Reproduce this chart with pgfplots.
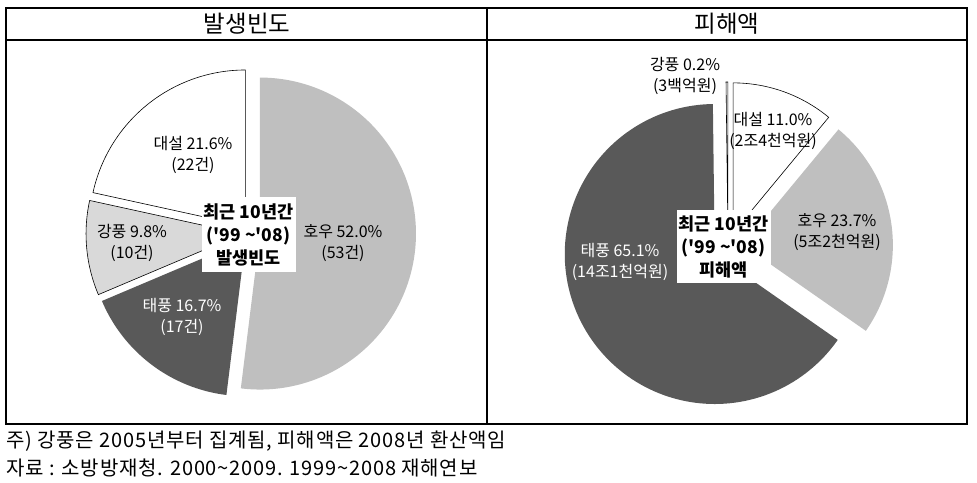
\documentclass[border=0pt]{standalone}
\usepackage{fontspec}
\setmainfont{Noto Sans CJK KR}
\usepackage{pgfplots}
\pgfplotsset{compat=1.18}

\definecolor{hou}{HTML}{BFBFBF}
\definecolor{tae}{HTML}{595959}
\definecolor{gang}{HTML}{D9D9D9}

% 발생빈도 (건): 호우, 태풍, 강풍, 대설
\def\Ha{53}\def\Ta{17}\def\Ga{10}\def\Da{22}
\def\Tota{102}
% 피해액 (%): 대설, 호우, 태풍, 강풍
\def\Db{11.0}\def\Hb{23.7}\def\Tb{65.1}\def\Gb{0.2}

% cx cy R explode a1 a2 style
\newcommand\pieslice[7]{%
  \pgfmathsetmacro\pa{#5}%
  \pgfmathsetmacro\pb{#6}%
  \pgfmathsetmacro\pmid{(\pa+\pb)/2}%
  \pgfmathsetmacro\pcx{#1+#4*cos(\pmid)}%
  \pgfmathsetmacro\pcy{#2+#4*sin(\pmid)}%
  \edef\pcmd{\noexpand\addplot[#7,mark=none,domain=\pa:\pb,samples=120,variable=\noexpand\t]
    ({\pcx+#3*cos(\noexpand\t)},{\pcy+#3*sin(\noexpand\t)}) -- (axis cs:\pcx,\pcy) -- cycle;}%
  \pcmd}

\begin{document}
\begin{tikzpicture}
\useasboundingbox (0,0) rectangle (977pt,482pt);
\begin{axis}[at={(0,0)}, anchor=south west, scale only axis,
  width=977pt, height=482pt, xmin=0, xmax=977, ymin=0, ymax=482,
  hide axis, clip=false]
% ---- left pie: 발생빈도
\pieslice{251}{249}{156}{9}{90-360/\Tota*\Ha}{90}{fill=hou,draw=none}
\pieslice{251}{249}{156}{9}{90-360/\Tota*(\Ha+\Ta)}{90-360/\Tota*\Ha}{fill=tae,draw=none}
\pieslice{251}{249}{156}{9}{90-360/\Tota*(\Ha+\Ta+\Ga)}{90-360/\Tota*(\Ha+\Ta)}{fill=gang,draw=black,line width=0.6pt}
\pieslice{251}{249}{156}{9}{90-360/\Tota*(\Ha+\Ta+\Ga+\Da)}{90-360/\Tota*(\Ha+\Ta+\Ga)}{fill=white,draw=black,line width=0.6pt}
% ---- right pie: 피해액
\pieslice{728}{235}{150}{15}{90-3.6*\Db}{90}{fill=white,draw=black,line width=0.6pt}
\pieslice{728}{235}{150}{15}{90-3.6*(\Db+\Hb)}{90-3.6*\Db}{fill=hou,draw=none}
\pieslice{728}{235}{150}{15}{90-3.6*(\Db+\Hb+\Tb)}{90-3.6*(\Db+\Hb)}{fill=tae,draw=none}
\pieslice{728}{235}{150}{15}{90-3.6*(\Db+\Hb+\Tb+\Gb)}{90-3.6*(\Db+\Hb+\Tb)}{fill=white,draw=black,line width=0.6pt}

% frame
\draw[line width=1.3pt] (axis cs:6,474) rectangle (axis cs:967,58);
\draw[line width=1.3pt] (axis cs:6,442) -- (axis cs:967,442);
\draw[line width=1.3pt] (axis cs:487,474) -- (axis cs:487,58);
\node[font=\fontsize{23.5}{26}\selectfont] at (axis cs:247,458) {발생빈도};
\node[font=\fontsize{23.5}{26}\selectfont] at (axis cs:727,458) {피해액};

% slice labels
\begin{scope}[every node/.style={align=center,font=\fontsize{16}{20.5}\selectfont}]
\node at (axis cs:193,327) {대설 21.6\%\\(22건)};
\node at (axis cs:132,239) {강풍 9.8\%\\(10건)};
\node[text=white] at (axis cs:182,165) {태풍 16.7\%\\(17건)};
\node at (axis cs:343,239) {호우 52.0\%\\(53건)};
\node at (axis cs:685,406) {강풍 0.2\%\\(3백억원)};
\node at (axis cs:773,351) {대설 11.0\%\\(2조4천억원)};
\node at (axis cs:837,250) {호우 23.7\%\\(5조2천억원)};
\node[text=white] at (axis cs:620,220) {태풍 65.1\%\\(14조1천억원)};
\end{scope}
\node[fill=white,inner sep=0pt,minimum width=94pt,minimum height=75pt,align=center,
  font=\bfseries\fontsize{17.5}{23}\selectfont] at (axis cs:248.5,247.5)
  {최근 10년간\\(\textquotesingle99 \textasciitilde\textquotesingle08)\\발생빈도};
\node[fill=white,inner sep=0pt,minimum width=94pt,minimum height=73pt,align=center,
  font=\bfseries\fontsize{17.5}{23}\selectfont] at (axis cs:723.5,235.5)
  {최근 10년간\\(\textquotesingle99 \textasciitilde\textquotesingle08)\\피해액};
% footnotes
\node[anchor=west,inner sep=0pt,font=\fontsize{20}{24}\selectfont\addfontfeature{LetterSpace=4}] at (axis cs:6,41)
  {주) 강풍은 2005년부터 집계됨, 피해액은 2008년 환산액임};
\node[anchor=west,inner sep=0pt,font=\fontsize{20}{24}\selectfont\addfontfeature{LetterSpace=4}] at (axis cs:6,14)
  {자료 : 소방방재청. 2000\textasciitilde2009. 1999\textasciitilde2008 재해연보};
\end{axis}
\end{tikzpicture}
\end{document}
